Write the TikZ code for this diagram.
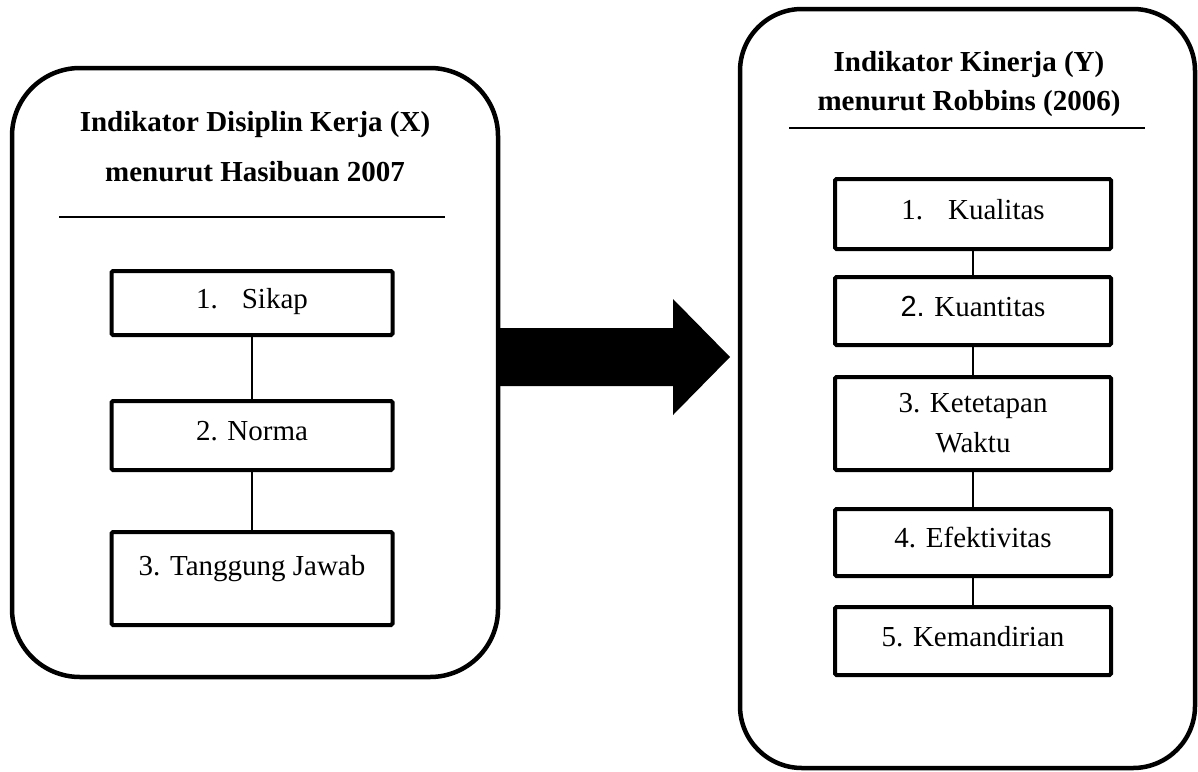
\documentclass[tikz,border=0pt]{standalone}
\usepackage{fontspec}
\setmainfont{Liberation Serif}
\newfontfamily\arial{Liberation Sans}
\usepackage{tikz}

\tikzset{
  wadah/.style={line width=4.5pt, rounded corners=68pt},
  kotak/.style={draw, line width=4pt, rounded corners=1.5pt, align=center,
    inner sep=0pt, font=\fontsize{29}{40}\selectfont},
  isi/.style={kotak, text height=20pt, text depth=10pt},
  judul/.style={align=center, inner sep=0pt},
  garis/.style={line width=1.3pt}
}

\begin{document}
\begin{tikzpicture}[x=1pt, y=-1pt]
    \useasboundingbox (0,0) rectangle (1198,771);
    % Wadah X
    \draw[wadah] (12,68) rectangle (498,677);
    \node[judul, font=\bfseries\fontsize{29}{50}\selectfont] (judulX) at (255,147)
    {Indikator Disiplin Kerja (X)\\menurut Hasibuan 2007};
    \draw[garis] (59,217) -- (445,217);
    \node[isi, minimum width=281pt, minimum height=64pt] (x1) at (252,303) {1.\hspace{24pt}Sikap};
    \node[isi, minimum width=281pt, minimum height=69pt] (x2) at (252,435.5) {2. Norma};
    \node[kotak, minimum width=281pt, minimum height=93pt, text height=20pt, text depth=27pt]
    (x3) at (252,578.5) {3. Tanggung Jawab};
    \draw[garis] (x1) -- (x2);
    \draw[garis] (x2) -- (x3);
    % Panah
    \coordinate (pangkal) at (498,357);
    \fill (pangkal) ++(0,-29) -- ++(175,0) -- ++(0,-29) -- ++(57,58) -- ++(-57,58)
    -- ++(0,-29) -- ++(-175,0) -- cycle;
    % Wadah Y
    \draw[wadah, rounded corners=62pt] (740,9) rectangle (1195,768);
    \node[judul, font=\bfseries\fontsize{29}{39}\selectfont] (judulY) at (969,84)
    {Indikator Kinerja (Y)\\menurut Robbins (2006)};
    \draw[garis] (789,128) -- (1145,128);
    \node[isi, minimum width=276pt, minimum height=70pt] (y1) at (973,214) {1.\hspace{25pt}Kualitas};
    \node[isi, minimum width=276pt, minimum height=68pt] (y2) at (973,311) {{\arial 2.} Kuantitas};
    \node[kotak, minimum width=276pt, minimum height=93pt] (y3) at (973,423.5) {3. Ketetapan\\Waktu};
    \node[isi, minimum width=276pt, minimum height=67pt] (y4) at (973,542.5) {4. Efektivitas};
    \node[isi, minimum width=276pt, minimum height=68pt] (y5) at (973,641) {5. Kemandirian};
    \foreach \a/\b in {y1/y2, y2/y3, y3/y4, y4/y5}
        \draw[garis] (\a) -- (\b);
\end{tikzpicture}
\end{document}
